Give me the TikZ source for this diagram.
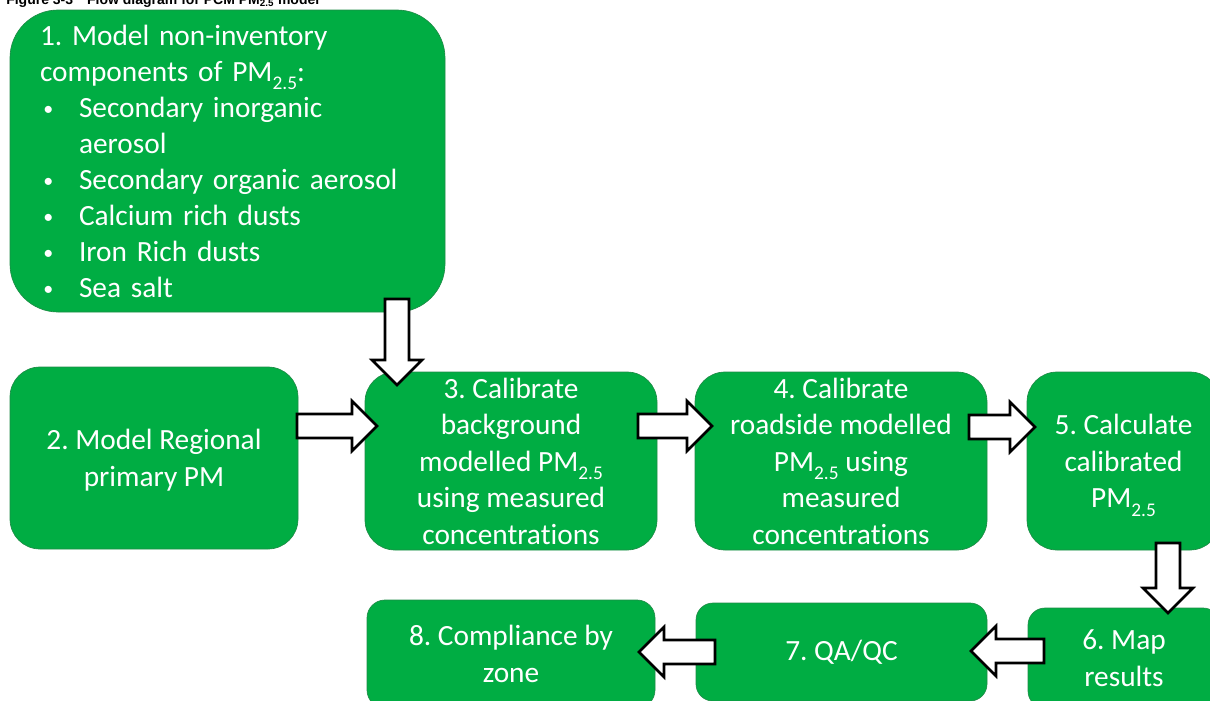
\documentclass[tikz,border=0pt]{standalone}
\usepackage{fontspec}
\setmainfont{Carlito}[Ligatures=NoCommon]
\newfontfamily\titlefont{Liberation Sans}
\usetikzlibrary{calc}
\frenchspacing
\definecolor{boxgreen}{RGB}{0,173,67}
\definecolor{boxedge}{RGB}{30,140,70}
\newcommand\subs[1]{\raisebox{-0.3em}[0pt][0pt]{\fontsize{14.5}{14.5}\selectfont #1}}
\newcommand\bul{\hspace*{2.5pt}\makebox[26.75pt][l]{\raisebox{0.05em}{\fontsize{15}{15}\selectfont •}}}
\newcommand\ind{\hspace*{29.25pt}}
\newcommand\blockarrow[2]{%
  \coordinate (hb) at ($(#2)!18.75pt!(#1)$);
  \draw[barrow] ($(#1)!9pt!90:(#2)$) -- ($(hb)!9pt!-90:(#1)$) -- ($(hb)!18.75pt!-90:(#1)$)
    -- (#2) -- ($(hb)!18.75pt!90:(#1)$) -- ($(hb)!9pt!90:(#1)$) -- ($(#1)!9pt!-90:(#2)$) -- cycle;}
\begin{document}
\begin{tikzpicture}[x=0.75pt,y=-0.75pt,
  box/.style={draw=boxedge, line width=0.5pt, fill=boxgreen, text=white, align=center,
    font=\fontsize{22}{27.4}\selectfont, inner sep=0pt},
  barrow/.style={draw=black, fill=white, line width=2pt, line join=miter}]
\clip (0,0) rectangle (1210,700);
\node[font=\titlefont\bfseries\fontsize{10.5}{12}\selectfont, anchor=base west, inner sep=0pt] (title) at (6,4)
  {Figure 3-3\quad Flow diagram for PCM PM\textsubscript{2.5} model};

\node[box, rounded corners=36pt, minimum width=326.25pt, minimum height=226.5pt,
  align=left, text width=281.25pt, inner xsep=22.5pt, font=\fontsize{22}{27}\selectfont] (b1) at (227.5,161)
  {1. Model non-inventory\\
   components of PM\subs{2.5}:\\
   \bul Secondary inorganic\\
   \ind aerosol\\
   \bul Secondary organic aerosol\\
   \bul Calcium rich dusts\\
   \bul Iron Rich dusts\\
   \bul Sea salt};
\node[box, rounded corners=22.5pt, minimum width=216pt, minimum height=136.5pt, text depth=0pt] (b2) at (154,458)
  {2. Model Regional\\primary PM};
\node[box, rounded corners=22.5pt, minimum width=219pt, minimum height=133.5pt] (b3) at (511,461)
  {3. Calibrate\\background\\modelled PM\subs{2.5}\\using measured\\concentrations};
\node[box, rounded corners=22.5pt, minimum width=219pt, minimum height=133.5pt] (b4) at (841,461)
  {4. Calibrate\\roadside modelled\\PM\subs{2.5} using\\measured\\concentrations};
\node[box, rounded corners=22.5pt, minimum width=144.75pt, minimum height=133.5pt] (b5) at (1123.5,461)
  {5. Calculate\\calibrated\\PM\subs{2.5}};
\node[box, rounded corners=12.75pt, minimum width=144pt, minimum height=75pt] (b6) at (1124,658)
  {6. Map\\results};
\node[box, rounded corners=12.75pt, minimum width=218.25pt, minimum height=73.5pt] (b7) at (841.5,652)
  {7. QA/QC};
\node[box, rounded corners=13.5pt, minimum width=216pt, minimum height=81pt] (b8) at (511,654)
  {8. Compliance by\\zone};

\coordinate (a13s) at (397,299); \coordinate (a13e) at (397,385);
\coordinate (a23s) at (297,426); \coordinate (a23e) at (377,426);
\coordinate (a34s) at (638,426); \coordinate (a34e) at (712,426);
\coordinate (a45s) at (969,427); \coordinate (a45e) at (1035,427);
\coordinate (a56s) at (1168,543); \coordinate (a56e) at (1168,613);
\coordinate (a67s) at (1044,651); \coordinate (a67e) at (971,651);
\coordinate (a78s) at (715,652); \coordinate (a78e) at (639,652);
\blockarrow{a13s}{a13e}
\blockarrow{a23s}{a23e}
\blockarrow{a34s}{a34e}
\blockarrow{a45s}{a45e}
\blockarrow{a56s}{a56e}
\blockarrow{a67s}{a67e}
\blockarrow{a78s}{a78e}
\end{tikzpicture}
\end{document}
